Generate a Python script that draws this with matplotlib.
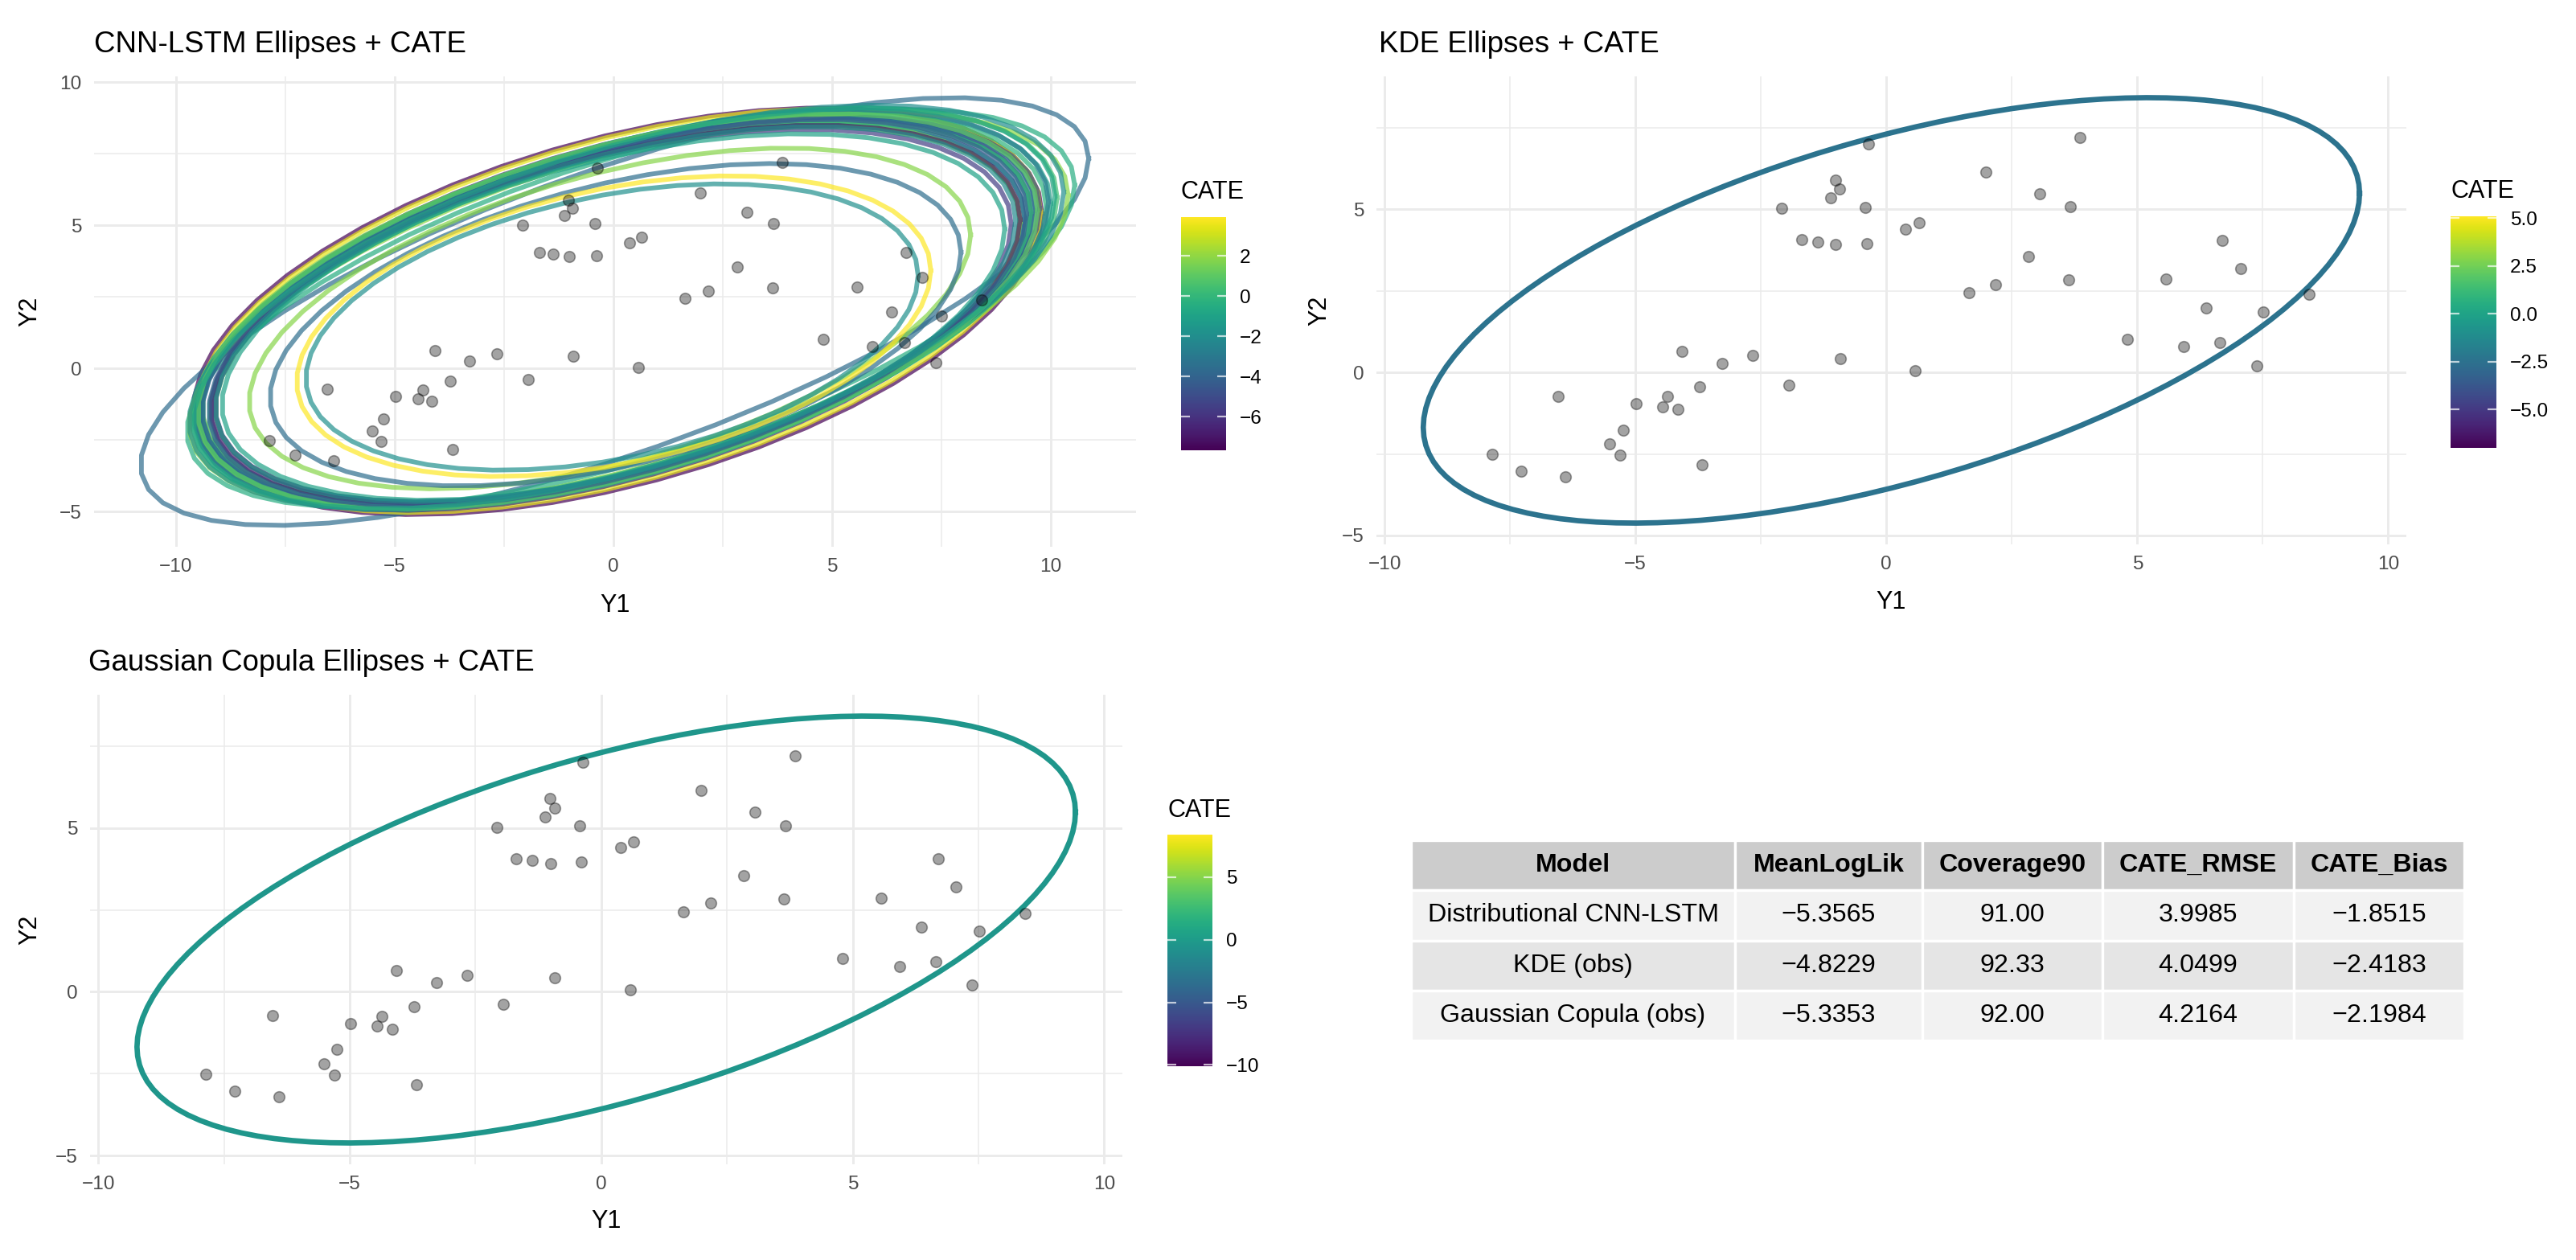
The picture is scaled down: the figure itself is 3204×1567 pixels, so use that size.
import numpy as np
import matplotlib.pyplot as plt
from matplotlib import colors
from matplotlib.cm import ScalarMappable
from matplotlib.ticker import MultipleLocator, FixedLocator, FuncFormatter

plt.rcParams['font.family'] = ['Liberation Sans', 'DejaVu Sans']

# observed outcomes
y1_obs = [-0.36, -1.02, -0.93, -1.11, -2.08, -0.42, -1.69, -1.37, -1.01, -0.39,
          -4.08, -3.28, -2.67, -0.92, -3.72, -1.94, -6.54, -4.98, -4.36, -4.46,
          -4.16, -5.25, -5.51, -5.31, -7.86, -7.28, -6.40, -3.68,
          3.86, 1.98, 3.05, 3.66, 0.38, 0.65, 2.83, 3.64, 2.18, 1.64, 6.70,
          7.06, 5.57, 8.43, 6.37, 7.51, 4.80, 5.93, 6.65, 7.38, 0.58]
y2_obs = [7.00, 5.89, 5.61, 5.34, 5.02, 5.06, 4.06, 4.00, 3.91, 3.95,
          0.64, 0.27, 0.51, 0.42, -0.45, -0.38, -0.73, -0.96, -0.74, -1.05,
          -1.14, -1.76, -2.19, -2.54, -2.51, -3.02, -3.21, -2.84,
          7.20, 6.14, 5.47, 5.07, 4.40, 4.58, 3.54, 2.83, 2.70, 2.44, 4.05,
          3.19, 2.85, 2.39, 1.98, 1.84, 1.01, 0.78, 0.91, 0.20, 0.05]

# CNN-LSTM 90% ellipses: centre, half extent along Y1 / Y2, correlation, CATE
cnn_cx = [0.10, 0.03, 0.12, 0.05, 0.20, 0.00, 0.10, 0.40, 0.25, 0.10, -0.05,
          0.15, 0.05, 0.35, 0.20, 0.10, 0.30, 0.00, 0.10, 0.15, 0.05, 0.20,
          0.10, 0.00, 0.10, 0.25, 0.05, -0.08, 0.05, 0.01, -0.03]
cnn_cy = [2.00, 1.99, 2.02, 1.95, 2.08, 1.92, 1.88, 2.10, 2.12, 2.00, 1.90,
          2.00, 1.95, 2.05, 2.05, 1.90, 2.15, 1.85, 2.00, 1.95, 1.90, 2.05,
          2.00, 1.80, 1.95, 2.10, 1.90, 1.75, 1.53, 1.48, 1.45]
cnn_hx = [9.70, 10.84, 9.65, 9.50, 9.80, 9.40, 9.30, 10.15, 9.90, 9.55, 9.35,
          9.60, 9.45, 10.05, 9.70, 9.20, 10.00, 9.10, 9.50, 9.40, 9.25, 9.75,
          9.60, 8.95, 9.35, 9.85, 9.15, 8.25, 7.90, 7.25, 7.00]
cnn_hy = [7.10, 7.47, 7.05, 6.90, 6.95, 6.75, 6.65, 6.95, 7.00, 6.85, 6.70,
          6.80, 6.85, 6.90, 6.90, 6.55, 7.05, 6.50, 6.75, 6.65, 6.60, 7.00,
          6.90, 6.40, 6.75, 7.00, 6.55, 5.95, 5.63, 5.25, 5.00]
cnn_rho = [0.48, 0.716, 0.49, 0.50, 0.53, 0.49, 0.51, 0.62, 0.55, 0.52, 0.48,
           0.53, 0.50, 0.58, 0.52, 0.50, 0.57, 0.49, 0.52, 0.53, 0.50, 0.54,
           0.51, 0.48, 0.51, 0.56, 0.50, 0.49, 0.45, 0.37, 0.36]
cnn_cate = [-7.66, -3.60, 3.50, -6.20, -1.20, -5.00, -2.60, -0.50, 0.40, -3.00,
            1.40, -4.60, -1.60, 1.90, -0.20, 2.20, -2.00, -5.60, -3.80, 0.00,
            -6.80, -2.80, 1.00, -1.00, -4.20, -0.80, -2.20, 1.80, -3.50, 3.92,
            -1.90]

# KDE and Gaussian copula ellipses
kde_center = [0.10, 1.90]
kde_half = [9.33, 6.52]
kde_rho = 0.55
kde_cate = -2.4
kde_cate_range = [-7.0, 5.1]

cop_center = [0.10, 1.90]
cop_half = [9.33, 6.51]
cop_rho = 0.55
cop_cate = -0.4
cop_cate_range = [-10.1, 8.4]

# summary table
models = ['Distributional CNN-LSTM', 'KDE (obs)', 'Gaussian Copula (obs)']
mean_loglik = [-5.3565, -4.8229, -5.3353]
coverage90 = [91.00, 92.33, 92.00]
cate_rmse = [3.9985, 4.0499, 4.2164]
cate_bias = [-1.8515, -2.4183, -2.1984]
col_labels = ['Model', 'MeanLogLik', 'Coverage90', 'CATE_RMSE', 'CATE_Bias']

W, H = 3204, 1567
GRID = '#ebebeb'
TICK = '#4d4d4d'


def ellipse_xy(cx, cy, hx, hy, rho, n=51):
    t = np.linspace(0, 2 * np.pi, n + 1)
    x = cx + hx * np.cos(t)
    y = cy + hy * (rho * np.cos(t) + np.sqrt(1 - rho ** 2) * np.sin(t))
    return x, y


def expand(vals):
    lo, hi = np.min(vals), np.max(vals)
    d = (hi - lo) * 0.05
    return lo - d, hi + d


def px_axes(l, t, r, b):
    return fig.add_axes([l / W, 1 - b / H, (r - l) / W, (b - t) / H])


def minus(v, fmt):
    return (fmt % v).replace('-', '\u2212')


def panel(ax, curves, cates, norm, alpha, lw, title, title_xy, x1_base, y2_x):
    allx, ally = [np.array(y1_obs)], [np.array(y2_obs)]
    for (x, y), c in zip(curves, cates):
        ax.plot(x, y, color=plt.cm.viridis(norm(c)), alpha=alpha, lw=lw,
                solid_joinstyle='round', zorder=2)
        allx.append(x)
        ally.append(y)
    ax.scatter(y1_obs, y2_obs, s=24, c='black', alpha=0.36, linewidths=0.6,
               edgecolors='black', zorder=3)
    ax.set_xlim(expand(np.concatenate(allx)))
    ax.set_ylim(expand(np.concatenate(ally)))
    for axis in (ax.xaxis, ax.yaxis):
        axis.set_major_locator(MultipleLocator(5))
        axis.set_minor_locator(MultipleLocator(2.5))
    ax.grid(which='major', color=GRID, lw=1.07)
    ax.grid(which='minor', color=GRID, lw=0.55)
    ax.set_axisbelow(True)
    for s in ax.spines.values():
        s.set_visible(False)
    ax.tick_params(which='both', length=0, labelsize=8.8, labelcolor=TICK)
    ax.tick_params(axis='x', pad=5)
    ax.tick_params(axis='y', pad=5.5)
    fig.text(title_xy[0] / W, 1 - title_xy[1] / H, title, fontsize=13.2,
             ha='left', va='baseline')
    pos = ax.get_position()
    fig.text((pos.x0 + pos.x1) / 2, 1 - x1_base / H, 'Y1', fontsize=11,
             ha='center', va='baseline')
    fig.text(y2_x / W, (pos.y0 + pos.y1) / 2, 'Y2', fontsize=11,
             rotation=90, ha='center', va='center')


def colorbar(cax, norm, ticks, fmt, title_xy):
    sm = ScalarMappable(norm=norm, cmap='viridis')
    cb = fig.colorbar(sm, cax=cax)
    cb.outline.set_visible(False)
    cb.ax.yaxis.set_major_locator(FixedLocator(ticks))
    cb.ax.yaxis.set_major_formatter(FuncFormatter(lambda v, p: minus(v, fmt)))
    cb.ax.tick_params(axis='y', direction='in', length=4, width=0.8,
                      color=(1, 1, 1, 0.7), left=True, right=True,
                      labelsize=8.8, labelcolor='black', pad=6)
    fig.text(title_xy[0] / W, 1 - title_xy[1] / H, 'CATE', fontsize=11,
             ha='left', va='baseline')


fig = plt.figure(figsize=(W / 200, H / 200), dpi=200)

# CNN-LSTM panel
ax1 = px_axes(117, 95, 1413, 680)
curves1 = [ellipse_xy(*p) for p in zip(cnn_cx, cnn_cy, cnn_hx, cnn_hy, cnn_rho)]
norm1 = colors.Normalize(min(cnn_cate), max(cnn_cate))
panel(ax1, curves1, cnn_cate, norm1, 0.7, 2.1, 'CNN-LSTM Ellipses + CATE',
      (117, 65), 761, 37)
colorbar(px_axes(1469, 270, 1525, 560), norm1, [-6, -4, -2, 0, 2], '%g',
         (1469, 247))

# KDE panel
ax2 = px_axes(1712, 95, 2993, 677)
curves2 = [ellipse_xy(kde_center[0], kde_center[1], kde_half[0], kde_half[1],
                      kde_rho, n=120)]
norm2 = colors.Normalize(*kde_cate_range)
panel(ax2, curves2, [kde_cate], norm2, 1.0, 2.4, 'KDE Ellipses + CATE',
      (1715, 65), 757, 1641)
colorbar(px_axes(3048, 269, 3105, 557), norm2, [-5, -2.5, 0, 2.5, 5],
         '%.1f', (3048, 246))

# Gaussian copula panel
ax3 = px_axes(112, 864, 1396, 1448)
curves3 = [ellipse_xy(cop_center[0], cop_center[1], cop_half[0], cop_half[1],
                      cop_rho, n=120)]
norm3 = colors.Normalize(*cop_cate_range)
panel(ax3, curves3, [cop_cate], norm3, 1.0, 2.4,
      'Gaussian Copula Ellipses + CATE', (110, 834), 1527, 37)
colorbar(px_axes(1452, 1038, 1508, 1326), norm3, [-10, -5, 0, 5], '%g',
         (1452, 1016))

# summary table
tab_ax = px_axes(1755, 1045, 3065, 1294)
tab_ax.axis('off')
cell_text = [[m, minus(a, '%.4f'), '%.2f' % b, minus(c, '%.4f'), minus(d, '%.4f')]
             for m, a, b, c, d in zip(models, mean_loglik, coverage90,
                                      cate_rmse, cate_bias)]
col_w = [403, 233, 224, 238, 212]
tbl = tab_ax.table(cellText=cell_text, colLabels=col_labels,
                   colWidths=[w / sum(col_w) for w in col_w],
                   bbox=[0, 0, 1, 1], cellLoc='center')
tbl.auto_set_font_size(False)
tbl.set_fontsize(11.6)
for (r, c), cell in tbl.get_celld().items():
    cell.set_edgecolor('white')
    cell.set_linewidth(1.2)
    if r == 0:
        cell.set_facecolor('#cccccc')
        cell.get_text().set_fontweight('bold')
    else:
        cell.set_facecolor('#f2f2f2' if r % 2 == 1 else '#e5e5e5')

fig.savefig('out.png', dpi=200, facecolor='white')
